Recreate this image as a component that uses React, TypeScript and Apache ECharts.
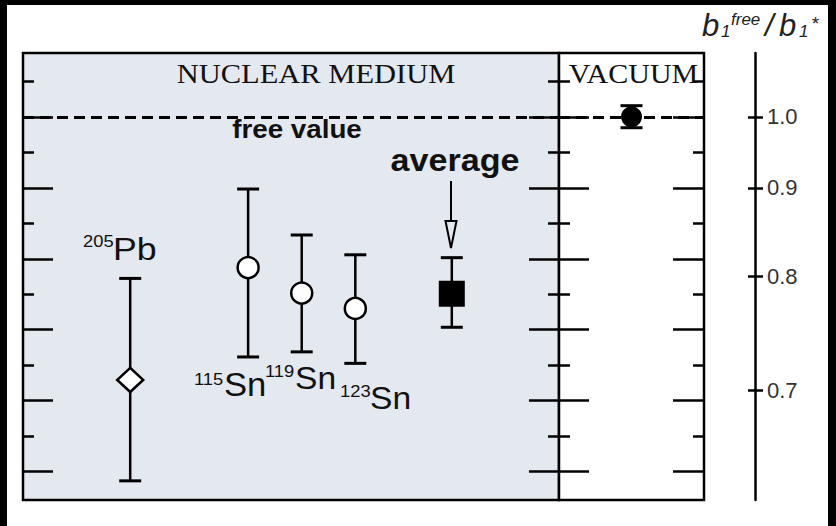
import React, { useEffect, useRef } from "react";
import * as echarts from "echarts";

// Inner (linear) scale: b1* / b1free, shown inverted so that larger ratios fall lower.
const ratioMin = 0.9;
const ratioMax = 1.6;
const innerMajorTicks = [1, 10 / 9, 11 / 9, 12 / 9, 13 / 9, 14 / 9];
const innerMinorTicks = [17 / 18, 19 / 18, 21 / 18, 23 / 18, 25 / 18, 27 / 18];

// Outer scale labels: b1free / b1*
const outerLabels = [1.0, 0.9, 0.8, 0.7];

// Nuclear-medium measurements (ratio b1*/b1free with error limits)
const mediumNames = ["205Pb", "115Sn", "119Sn", "123Sn", "average"];
const mediumSlot = [2, 4.2, 5.2, 6.2, 8];
const mediumCentre = [1.412, 1.236, 1.276, 1.3, 1.277];
const mediumLower = [1.253, 1.113, 1.185, 1.216, 1.2205];
const mediumUpper = [1.57, 1.376, 1.368, 1.386, 1.3295];

// Vacuum measurement
const vacuumSlot = [5];
const vacuumCentre = [1.0];
const vacuumLower = [0.9825];
const vacuumUpper = [1.017];

const freeValue = 1.0;

const INK = "#000";
const SANS = "'Liberation Sans', Arial, sans-serif";
const SERIF = "'Liberation Serif', 'Times New Roman', serif";

function errorBarItem(params: any, api: any) {
  const x = api.value(0);
  const top = api.coord([x, api.value(1)]);
  const bot = api.coord([x, api.value(2)]);
  const hw = 11;
  return {
    type: "group",
    children: [
      { type: "line", shape: { x1: top[0], y1: top[1], x2: bot[0], y2: bot[1] }, style: { stroke: INK, lineWidth: 2.5 } },
      { type: "line", shape: { x1: top[0] - hw, y1: top[1], x2: top[0] + hw, y2: top[1] }, style: { stroke: INK, lineWidth: 3 } },
      { type: "line", shape: { x1: bot[0] - hw, y1: bot[1], x2: bot[0] + hw, y2: bot[1] }, style: { stroke: INK, lineWidth: 3 } },
    ],
  };
}

function innerAxis(gridIndex: number, position: string, values: number[], length: number) {
  return {
    type: "value",
    gridIndex,
    position,
    min: ratioMin,
    max: ratioMax,
    inverse: true,
    axisLine: { show: false },
    splitLine: { show: false },
    axisLabel: { show: false },
    axisTick: { show: true, inside: true, length, customValues: values, lineStyle: { color: INK, width: 2.5 } },
  };
}

function txt(text: string, x: number, y: number, size: number, opts: any = {}) {
  const align = opts.align || "left";
  return {
    type: "text",
    x,
    y,
    scaleX: opts.scaleX || 1,
    z: 100,
    style: {
      text,
      fontSize: size,
      fontFamily: opts.family || SANS,
      fontWeight: opts.weight || "normal",
      fontStyle: opts.style || "normal",
      fill: opts.fill || "#111",
      align,
      textAlign: align,
      verticalAlign: "middle",
      textVerticalAlign: "middle",
    },
  };
}

export default function App() {
  const ref = useRef<HTMLDivElement>(null);

  useEffect(() => {
    if (!ref.current) return;
    const chart = echarts.init(ref.current, null, { renderer: "svg" });

    const mediumBars = mediumSlot.map((s, i) => [s, mediumLower[i], mediumUpper[i]]);
    const pt = (i: number) => ({ name: mediumNames[i], value: [mediumSlot[i], mediumCentre[i]] });

    const dashed = {
      silent: true,
      symbol: ["none", "none"],
      label: { show: false },
      lineStyle: { color: INK, width: 3, type: [11, 6] as any },
      data: [{ yAxis: freeValue }],
    };

    const option: any = {
      animation: false,
      backgroundColor: "#fff",
      grid: [
        { left: 23, top: 53, width: 536, height: 447, show: true, backgroundColor: "#e4e8ef", borderColor: INK, borderWidth: 2.5 },
        { left: 559, top: 53, width: 145, height: 447, show: true, backgroundColor: "#fff", borderColor: INK, borderWidth: 2.5 },
      ],
      xAxis: [
        { type: "value", gridIndex: 0, min: 0, max: 10, show: false },
        { type: "value", gridIndex: 1, min: 0, max: 10, show: false },
      ],
      yAxis: [
        innerAxis(0, "left", innerMajorTicks, 30),
        innerAxis(0, "left", innerMinorTicks, 11),
        innerAxis(0, "right", innerMajorTicks, 30),
        innerAxis(0, "right", innerMinorTicks, 11),
        innerAxis(1, "left", innerMajorTicks, 30),
        innerAxis(1, "left", innerMinorTicks, 11),
        innerAxis(1, "right", innerMajorTicks, 31),
        innerAxis(1, "right", innerMinorTicks, 11),
        {
          type: "value",
          gridIndex: 1,
          position: "right",
          offset: 51,
          min: ratioMin,
          max: ratioMax,
          inverse: true,
          splitLine: { show: false },
          axisLine: { show: true, lineStyle: { color: INK, width: 2.5 } },
          axisTick: { show: true, inside: true, length: 7, customValues: outerLabels.map((v) => 1 / v), lineStyle: { color: INK, width: 2.5 } },
          axisLabel: {
            show: true,
            margin: 12,
            customValues: outerLabels.map((v) => 1 / v),
            formatter: (v: number) => (1 / v).toFixed(1),
            fontFamily: SANS,
            fontSize: 22,
            color: "#333",
          },
        },
        {
          type: "value",
          gridIndex: 1,
          position: "right",
          offset: 51,
          min: ratioMin,
          max: ratioMax,
          inverse: true,
          splitLine: { show: false },
          axisLine: { show: false },
          axisLabel: { show: false },
          axisTick: { show: true, inside: false, length: 8, customValues: outerLabels.map((v) => 1 / v), lineStyle: { color: INK, width: 2.5 } },
        },
      ],
      series: [
        {
          type: "custom",
          name: "medium error",
          xAxisIndex: 0,
          yAxisIndex: 0,
          renderItem: errorBarItem,
          encode: { x: 0, y: [1, 2] },
          data: mediumBars,
          z: 3,
        },
        {
          type: "scatter",
          name: "205Pb",
          xAxisIndex: 0,
          yAxisIndex: 0,
          symbol: "diamond",
          symbolSize: [26, 24],
          itemStyle: { color: "#fff", borderColor: INK, borderWidth: 2.5, opacity: 1 },
          data: [pt(0)],
          markLine: dashed,
          z: 4,
        },
        {
          type: "scatter",
          name: "Sn",
          xAxisIndex: 0,
          yAxisIndex: 0,
          symbol: "circle",
          symbolSize: 21,
          itemStyle: { color: "#fff", borderColor: INK, borderWidth: 2.5, opacity: 1 },
          data: [pt(1), pt(2), pt(3)],
          z: 4,
        },
        {
          type: "scatter",
          name: "average",
          xAxisIndex: 0,
          yAxisIndex: 0,
          symbol: "rect",
          symbolSize: [26, 26],
          itemStyle: { color: INK, opacity: 1 },
          data: [pt(4)],
          z: 4,
        },
        {
          type: "custom",
          name: "vacuum error",
          xAxisIndex: 1,
          yAxisIndex: 4,
          renderItem: errorBarItem,
          encode: { x: 0, y: [1, 2] },
          data: vacuumSlot.map((s, i) => [s, vacuumLower[i], vacuumUpper[i]]),
          z: 3,
        },
        {
          type: "scatter",
          name: "vacuum",
          xAxisIndex: 1,
          yAxisIndex: 4,
          symbol: "circle",
          symbolSize: 21,
          itemStyle: { color: INK, opacity: 1 },
          data: vacuumSlot.map((s, i) => [s, vacuumCentre[i]]),
          markLine: dashed,
          z: 4,
        },
      ],
      graphic: [
        // frame
        { type: "rect", shape: { x: 0, y: 0, width: 836, height: 5 }, style: { fill: "#000" }, z: 200 },
        { type: "rect", shape: { x: 0, y: 0, width: 7, height: 526 }, style: { fill: "#000" }, z: 200 },
        { type: "rect", shape: { x: 828, y: 0, width: 8, height: 526 }, style: { fill: "#000" }, z: 200 },
        // panel headings
        txt("NUCLEAR MEDIUM", 316, 74, 27, { family: SERIF, align: "center", scaleX: 1.13 }),
        txt("VACUUM", 633.5, 74, 27, { family: SERIF, align: "center", scaleX: 1.11 }),
        // annotations
        txt("free value", 297, 129, 25, { weight: "bold", align: "center", scaleX: 1.11 }),
        txt("average", 455, 161, 31, { weight: "bold", align: "center", scaleX: 1.1 }),
        { type: "line", shape: { x1: 451, y1: 181, x2: 451, y2: 221 }, style: { stroke: INK, lineWidth: 2 }, z: 100 },
        {
          type: "polygon",
          shape: { points: [[445.5, 221], [456.5, 221], [451, 248]] },
          style: { fill: "#e4e8ef", stroke: INK, lineWidth: 2 },
          z: 100,
        },
        // nucleus labels
        txt("205", 83, 241, 17, { scaleX: 1.08 }),
        txt("Pb", 113, 249, 31, { scaleX: 1.15 }),
        txt("115", 194, 379, 17, { scaleX: 1.08 }),
        txt("Sn", 224, 384, 33, { scaleX: 1.05 }),
        txt("119", 265, 371, 17, { scaleX: 1.08 }),
        txt("Sn", 295, 378, 32, { scaleX: 1.05 }),
        txt("123", 340, 391, 17, { scaleX: 1.08 }),
        txt("Sn", 370, 398, 32, { scaleX: 1.05 }),
        // outer axis title: b1^free / b1^*
        txt("b", 702, 25, 31, { style: "italic", fill: "#222" }),
        txt("1", 721, 31, 17, { style: "italic", fill: "#222" }),
        txt("free", 731, 19, 17, { style: "italic", fill: "#222" }),
        txt("/", 765, 25, 31, { style: "italic", fill: "#222" }),
        txt("b", 779, 25, 31, { style: "italic", fill: "#222" }),
        txt("1", 799, 31, 17, { style: "italic", fill: "#222" }),
        txt("*", 811, 23, 19, { style: "italic", fill: "#222" }),
      ],
    };

    chart.setOption(option);
    return () => chart.dispose();
  }, []);

  return (
    <div
      ref={ref}
      style={{ position: "absolute", left: 0, top: 0, width: 836, height: 526, background: "#fff" }}
    />
  );
}
